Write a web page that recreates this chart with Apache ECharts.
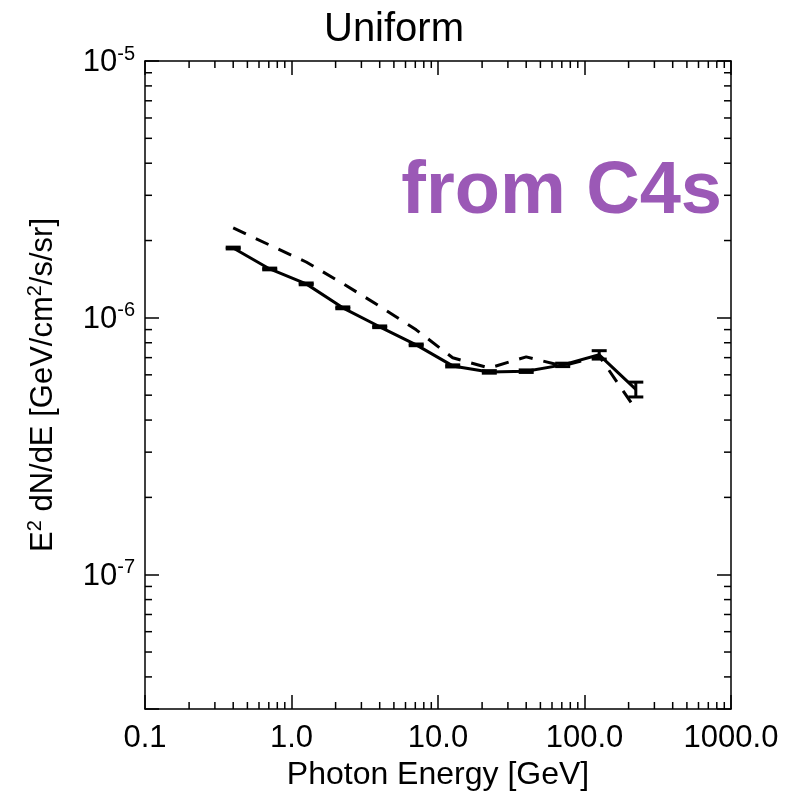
<!DOCTYPE html>
<html>
<head>
<meta charset="utf-8">
<script src="https://cdn.jsdelivr.net/npm/echarts@6/dist/echarts.min.js"></script>
<style>
  html, body { margin: 0; padding: 0; background: #fff; }
  #chart { width: 788px; height: 797px; }
</style>
</head>
<body>
<div id="chart"></div>
<script>
// Photon energy bin centres [GeV]
const energy = [0.4, 0.71, 1.26, 2.24, 4.0, 7.1, 12.6, 22.4, 40, 71, 126, 224];
// Uniform template spectrum, E^2 dN/dE [GeV/cm^2/s/sr]
const fluxUniform = [1.87e-6, 1.55e-6, 1.356e-6, 1.094e-6, 9.23e-7, 7.85e-7, 6.5e-7, 6.16e-7, 6.2e-7, 6.56e-7, 7.18e-7, 5.27e-7];
// 1-sigma uncertainties on the uniform spectrum
const fluxUniformErr = [1.5e-8, 1.2e-8, 1.1e-8, 9e-9, 7e-9, 6e-9, 6e-9, 7e-9, 7e-9, 1.0e-8, 2.7e-8, 3.5e-8];
// Spectrum derived from C4s (dashed)
const fluxC4s = [2.24e-6, 1.92e-6, 1.65e-6, 1.36e-6, 1.11e-6, 8.98e-7, 6.99e-7, 6.38e-7, 7.05e-7, 6.5e-7, 7.1e-7, 4.4e-7];

// Axis ranges and tick positions
const xRange = [0.1, 1000];
const yRange = [3e-8, 1e-5];
const xMinorTicks = [0.2, 0.3, 0.4, 0.5, 0.6, 0.7, 0.8, 0.9, 2, 3, 4, 5, 6, 7, 8, 9, 20, 30, 40, 50, 60, 70, 80, 90, 200, 300, 400, 500, 600, 700, 800, 900];
const yMinorTicks = [4e-8, 5e-8, 6e-8, 7e-8, 8e-8, 9e-8, 2e-7, 3e-7, 4e-7, 5e-7, 6e-7, 7e-7, 8e-7, 9e-7, 2e-6, 3e-6, 4e-6, 5e-6, 6e-6, 7e-6, 8e-6, 9e-6];

const FONT = '"Liberation Sans", Arial, Helvetica, sans-serif';
const chart = echarts.init(document.getElementById('chart'), null, { renderer: 'canvas' });

const errData = energy.map((e, i) => [e, fluxUniform[i], fluxUniform[i] - fluxUniformErr[i], fluxUniform[i] + fluxUniformErr[i]]);

function xLabel(v) {
  return Number(v).toFixed(1);
}
function yLabel(v) {
  const l = Math.log10(v);
  const e = Math.round(l);
  if (Math.abs(l - e) > 1e-6) return '';
  return '{b|10}{s|' + e + '}';
}

const axisLineStyle = { color: '#000', width: 1.5 };
const majorTick = { show: true, inside: true, length: 14, lineStyle: { color: '#000', width: 1.5 } };

const option = {
  animation: false,
  backgroundColor: '#fff',
  grid: { left: 145, right: 57, top: 61, bottom: 88, containLabel: false },
  xAxis: [
    {
      type: 'log', logBase: 10, min: xRange[0], max: xRange[1], position: 'bottom',
      axisLine: { show: true, lineStyle: axisLineStyle },
      axisTick: majorTick,
      splitLine: { show: false },
      axisLabel: { show: true, color: '#000', fontFamily: FONT, fontSize: 31, margin: 14, formatter: xLabel }
    },
    {
      type: 'log', logBase: 10, min: xRange[0], max: xRange[1], position: 'top',
      axisLine: { show: true, lineStyle: axisLineStyle },
      axisTick: majorTick,
      splitLine: { show: false },
      axisLabel: { show: false }
    }
  ],
  yAxis: [
    {
      type: 'log', logBase: 10, min: yRange[0], max: yRange[1], position: 'left',
      axisLine: { show: true, lineStyle: axisLineStyle },
      axisTick: majorTick,
      splitLine: { show: false },
      axisLabel: {
        show: true, color: '#000', fontFamily: FONT, margin: 10, formatter: yLabel,
        rich: {
          b: { fontFamily: FONT, fontSize: 31, color: '#000', lineHeight: 34, verticalAlign: 'bottom' },
          s: { fontFamily: FONT, fontSize: 20, color: '#000', lineHeight: 34, verticalAlign: 'top', padding: [0, 0, 12, 0] }
        }
      }
    },
    {
      type: 'log', logBase: 10, min: yRange[0], max: yRange[1], position: 'right',
      axisLine: { show: true, lineStyle: axisLineStyle },
      axisTick: majorTick,
      splitLine: { show: false },
      axisLabel: { show: false }
    }
  ],
  series: [
    {
      // minor ticks on the bottom and top axes
      type: 'custom', xAxisIndex: 0, yAxisIndex: 0, silent: true,
      data: xMinorTicks.map(v => [v]),
      renderItem: function (params, api) {
        const v = api.value(0);
        const b = api.coord([v, yRange[0]]);
        const t = api.coord([v, yRange[1]]);
        const st = { stroke: '#000', lineWidth: 1.5 };
        return {
          type: 'group', children: [
            { type: 'line', shape: { x1: b[0], y1: b[1], x2: b[0], y2: b[1] - 7 }, style: st },
            { type: 'line', shape: { x1: t[0], y1: t[1], x2: t[0], y2: t[1] + 7 }, style: st }
          ]
        };
      }
    },
    {
      // minor ticks on the left and right axes
      type: 'custom', xAxisIndex: 0, yAxisIndex: 0, silent: true,
      data: yMinorTicks.map(v => [xRange[0], v]),
      renderItem: function (params, api) {
        const v = api.value(1);
        const l = api.coord([xRange[0], v]);
        const r = api.coord([xRange[1], v]);
        const st = { stroke: '#000', lineWidth: 1.5 };
        return {
          type: 'group', children: [
            { type: 'line', shape: { x1: l[0], y1: l[1], x2: l[0] + 7, y2: l[1] }, style: st },
            { type: 'line', shape: { x1: r[0], y1: r[1], x2: r[0] - 7, y2: r[1] }, style: st }
          ]
        };
      }
    },
    {
      name: 'C4s', type: 'line', xAxisIndex: 0, yAxisIndex: 0,
      data: energy.map((e, i) => [e, fluxC4s[i]]),
      symbol: 'none', smooth: false,
      lineStyle: { color: '#000', width: 3, type: [14, 11] }
    },
    {
      name: 'Uniform', type: 'line', xAxisIndex: 0, yAxisIndex: 0,
      data: energy.map((e, i) => [e, fluxUniform[i]]),
      symbol: 'none', smooth: false,
      lineStyle: { color: '#000', width: 3 }
    },
    {
      // error bars with caps
      type: 'custom', xAxisIndex: 0, yAxisIndex: 0,
      data: errData,
      renderItem: function (params, api) {
        const x = api.value(0);
        const lo = api.coord([x, api.value(2)]);
        const hi = api.coord([x, api.value(3)]);
        const hw = 7.5;
        const st = { stroke: '#000', lineWidth: 3 };
        return {
          type: 'group', children: [
            { type: 'line', shape: { x1: lo[0], y1: lo[1], x2: hi[0], y2: hi[1] }, style: st },
            { type: 'line', shape: { x1: lo[0] - hw, y1: lo[1], x2: lo[0] + hw, y2: lo[1] }, style: st },
            { type: 'line', shape: { x1: hi[0] - hw, y1: hi[1], x2: hi[0] + hw, y2: hi[1] }, style: st }
          ]
        };
      }
    }
  ],
  graphic: [
    {
      type: 'text', left: 'center', top: 10, z: 10,
      style: { text: 'Uniform', fill: '#000', font: '40px ' + FONT }
    },
    {
      type: 'text', x: 438, y: 775, z: 10,
      style: { text: 'Photon Energy [GeV]', fill: '#000', font: '32px ' + FONT, textAlign: 'center', textVerticalAlign: 'middle' }
    },
    {
      type: 'text', x: 42, y: 385, rotation: Math.PI / 2, z: 10,
      style: {
        text: '{b|E}{s|2}{b| dN/dE [GeV/cm}{s|2}{b|/s/sr]}',
        textAlign: 'center', textVerticalAlign: 'middle',
        rich: {
          b: { fontFamily: FONT, fontSize: 31, fill: '#000', lineHeight: 34, verticalAlign: 'bottom' },
          s: { fontFamily: FONT, fontSize: 20, fill: '#000', lineHeight: 34, verticalAlign: 'top', padding: [0, 0, 12, 0] }
        }
      }
    },
    {
      type: 'text', x: 722, y: 193, z: 10,
      style: { text: 'from C4s', fill: '#9b59b6', font: 'bold 74px ' + FONT, textAlign: 'right', textVerticalAlign: 'middle' }
    }
  ]
};

chart.setOption(option);
</script>
</body>
</html>
